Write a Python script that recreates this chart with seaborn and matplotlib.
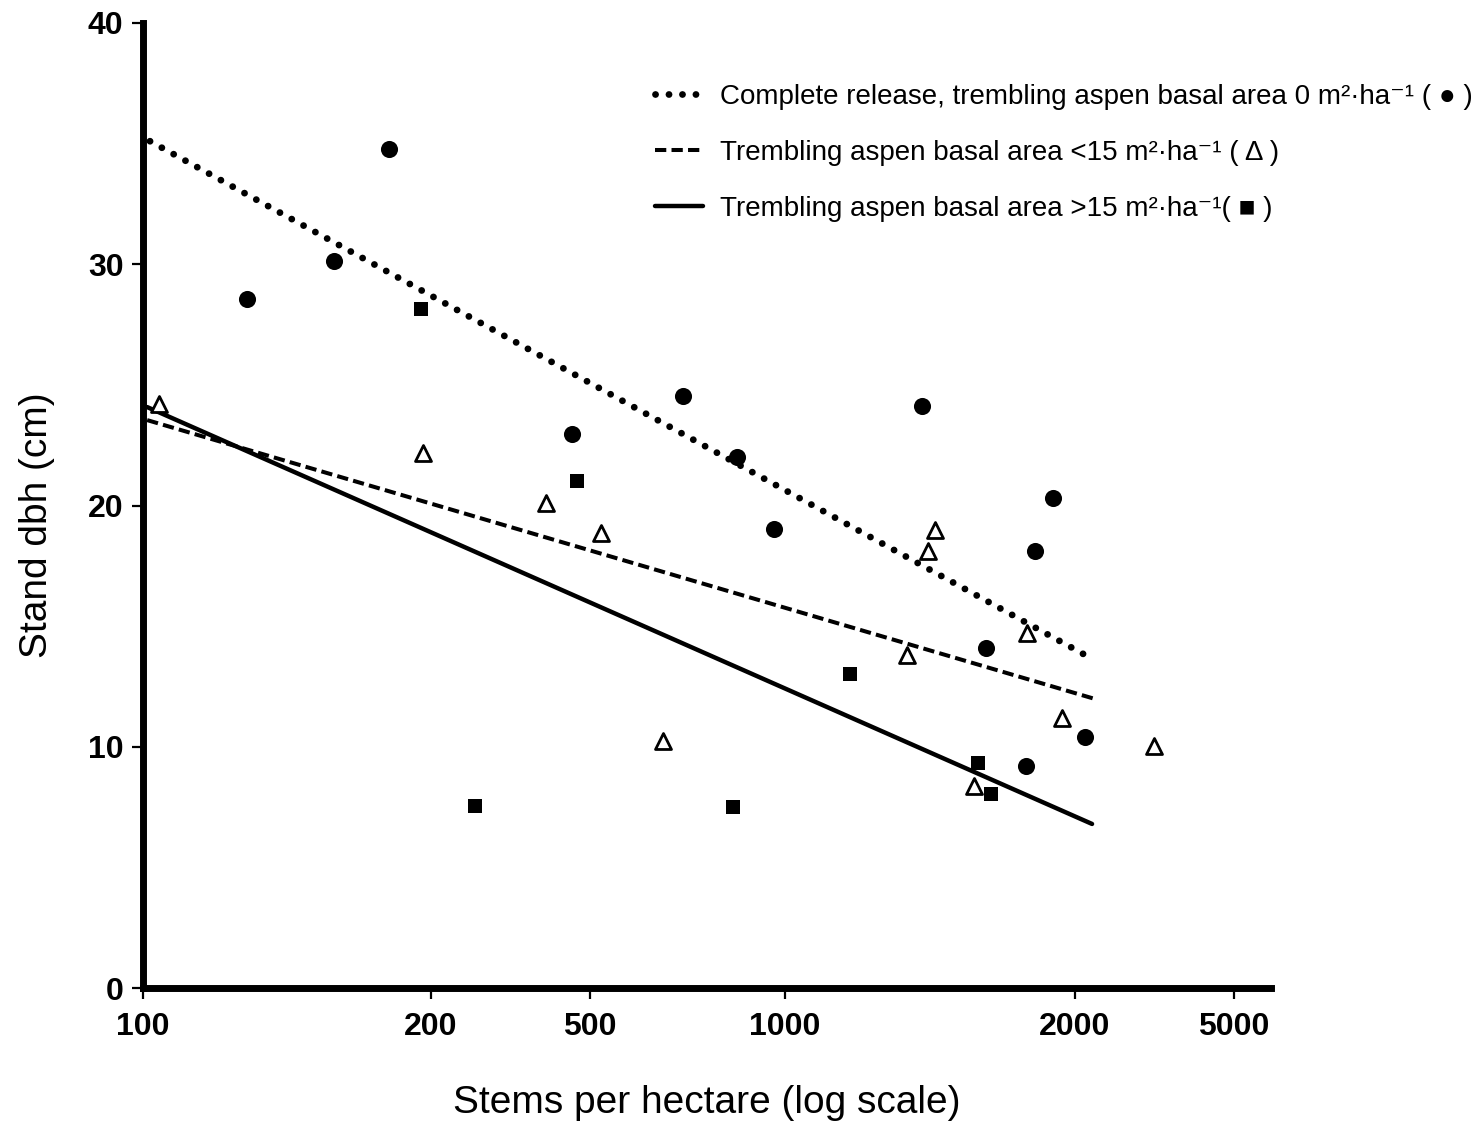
import numpy as np
import pandas as pd
import matplotlib
matplotlib.use("Agg")
import matplotlib.pyplot as plt
import seaborn as sns

# ---------------- data ----------------
# Complete release (filled circles)
circle_x = [128.5, 158.4, 180.8, 450.8, 696, 843, 961.6, 1388, 1897, 1817, 1617, 2118, 1779]
circle_y = [28.56, 30.13, 34.78, 22.96, 24.54, 22.01, 19.03, 24.12, 20.31, 18.11, 14.09, 10.40, 9.20]
# Trembling aspen basal area < 15 (open triangles)
tri_x = [103.9, 196.2, 388, 520, 648, 1339, 1408, 1431, 1783, 1939, 3154, 1571]
tri_y = [24.21, 22.18, 20.10, 18.86, 10.24, 13.80, 18.11, 18.98, 14.72, 11.19, 10.03, 8.37]
# Trembling aspen basal area > 15 (filled squares)
sq_x = [195.2, 464, 257.7, 831, 1168, 1586, 1636]
sq_y = [28.15, 21.02, 7.54, 7.50, 13.02, 9.33, 8.04]

# fitted regression lines (end points)
fit_complete_x = [101.7, 2143]
fit_complete_y = [35.1, 13.76]
fit_low_x = [101.0, 2244]
fit_low_y = [23.54, 11.98]
fit_high_x = [101.0, 2206]
fit_high_y = [24.08, 6.8]

labels = [
    "Complete release, trembling aspen basal area 0 m²·ha⁻¹ ( ● )",
    "Trembling aspen basal area <15 m²·ha⁻¹ ( Δ )",
    "Trembling aspen basal area >15 m²·ha⁻¹( ■ )",
]
x_ticks = [100, 200, 500, 1000, 2000, 5000]
x_ticklabels = ["100", "200", "500", "1000", "2000", "5000"]
y_ticks = [0, 10, 20, 30, 40]
y_ticklabels = ["0", "10", "20", "30", "40"]
xlabel = "Stems per hectare (log scale)"
ylabel = "Stand dbh (cm)"

# ---------------- axis scale of the original (hand-drawn log axis) ----------------
KNOT_LOG = [1.699, 2.0, 2.301, 2.699, 3.0, 3.301, 3.699, 4.0]
KNOT_POS = [-288, 0, 288, 447, 642, 932, 1091, 1211]


def fwd(x):
    x = np.asarray(x, dtype=float)
    return np.interp(np.log10(np.clip(x, 1e-9, None)), KNOT_LOG, KNOT_POS)


def inv(p):
    p = np.asarray(p, dtype=float)
    return 10 ** np.interp(p, KNOT_POS, KNOT_LOG)


# ---------------- styling ----------------
sns.set_style("ticks")
plt.rcParams["font.family"] = ["Liberation Sans", "DejaVu Sans"]
plt.rcParams["text.color"] = "black"
plt.rcParams["axes.labelcolor"] = "black"
plt.rcParams["xtick.color"] = "black"
plt.rcParams["ytick.color"] = "black"

W, H = 1476, 1123
fig = plt.figure(figsize=(W / 100, H / 100), dpi=100)
ax = fig.add_axes([143 / W, 1 - 988 / H, 1128 / W, 965 / H])
ax.set_xscale("function", functions=(fwd, inv))

# regression lines
sns.lineplot(x=fit_complete_x, y=fit_complete_y, ax=ax, color="black", lw=4.9,
             linestyle=(0, (0.01, 1.97)), dash_capstyle="round", label=labels[0])
sns.lineplot(x=fit_low_x, y=fit_low_y, ax=ax, color="black", lw=2.9,
             linestyle=(0, (2.8, 1.3)), dash_capstyle="butt", label=labels[1])
sns.lineplot(x=fit_high_x, y=fit_high_y, ax=ax, color="black", lw=3.2,
             linestyle="-", label=labels[2])

# points
sns.scatterplot(x=circle_x, y=circle_y, ax=ax, marker="o", s=12.3 ** 2,
                color="black", edgecolor="black", linewidth=0, zorder=4)
sns.scatterplot(x=tri_x, y=tri_y, ax=ax, marker="^", s=11.5 ** 2,
                facecolor="white", edgecolor="black", linewidth=2.0, zorder=4)
sns.scatterplot(x=sq_x, y=sq_y, ax=ax, marker="s", s=10.7 ** 2,
                color="black", edgecolor="black", linewidth=0, zorder=4)

ax.set_xlim(100, 6190)
ax.set_ylim(0, 40)
ax.set_xticks(x_ticks)
ax.set_xticklabels(x_ticklabels)
ax.set_yticks(y_ticks)
ax.set_yticklabels(y_ticklabels)
ax.xaxis.set_minor_locator(matplotlib.ticker.NullLocator())
ax.yaxis.set_minor_locator(matplotlib.ticker.NullLocator())

for s in ["top", "right"]:
    ax.spines[s].set_visible(False)
for s in ["left", "bottom"]:
    ax.spines[s].set_linewidth(5)
    ax.spines[s].set_color("black")
ax.tick_params(axis="both", direction="out", length=8, width=1.6, color="black",
               labelcolor="black")
ax.tick_params(axis="x", pad=9, labelsize=23)
ax.tick_params(axis="y", pad=6, labelsize=23)
for t in ax.get_yticklabels():
    t.set_fontweight("bold")
for t in ax.get_xticklabels():
    t.set_fontweight("bold")

ax.set_xlabel(xlabel, fontsize=28, color="black")
ax.set_ylabel(ylabel, fontsize=28, color="black")
ax.xaxis.set_label_coords(0.5, -0.101)
ax.yaxis.set_label_coords(-0.078, 0.48)
ax.set_facecolor("white")
fig.patch.set_facecolor("white")

# legend
handles = ax.get_lines()[:3]
if ax.get_legend() is not None:
    ax.get_legend().remove()
leg = fig.legend(handles, labels, loc="upper left", bbox_to_anchor=(655 / W, 1 - 84 / H),
                 frameon=False, fontsize=20, handlelength=1.73, handletextpad=0.6,
                 labelspacing=1.08, borderpad=0, borderaxespad=0)
for t in leg.get_texts():
    t.set_color("black")

fig.savefig("out.png", dpi=100, facecolor="white")
